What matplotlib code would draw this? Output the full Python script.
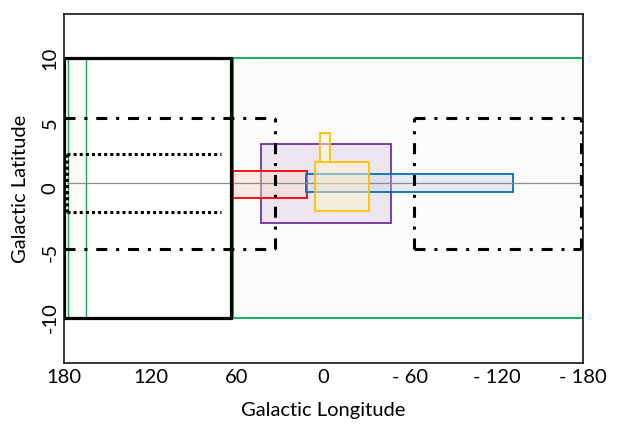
import matplotlib
matplotlib.use("Agg")
import matplotlib.pyplot as plt
from matplotlib.patches import Rectangle

plt.rcParams["font.family"] = ["Lato", "DejaVu Sans"]

# survey footprints as (l_left, l_right, b_low, b_high), degrees
GREEN_WIDE = (62.8, -180.0, -10.0, 10.0)
GREEN_STRIP = (177.0, 165.0, -10.0, 10.0)
BLACK_BOX = (180.0, 64.0, -10.0, 10.0)
DASHDOT_LEFT = (180.0, 33.6, -4.7, 5.4)
DASHDOT_RIGHT = (-62.8, -178.4, -4.7, 5.4)
DOTTED = (177.9, 71.0, -1.85, 2.6)
RED_BOX = (62.8, 11.7, -0.77, 1.3)
PURPLE_BOX = (43.4, -46.8, -2.7, 3.4)
BLUE_BOX = (12.0, -131.6, -0.33, 1.05)
YELLOW_BIG = (5.9, -31.6, -1.77, 2.0)
YELLOW_SMALL = (2.4, -4.7, 2.0, 4.25)

PLANE_L = [178.0, -180.0]
PLANE_B = [0.4, 0.4]

X_TICKS = [180, 120, 60, 0, -60, -120, -180]
X_LABELS = ["180", "120", "60", "0", "- 60", "- 120", "- 180"]
Y_TICKS = [10, 5, 0, -5, -10]
Y_LABELS = ["10", "5", "0", "-5", "-10"]

DASHDOT = (0, (3.6, 2.9, 1.0, 2.9))
DOTS = (0, (1.0, 1.0))


def add_box(axis, box, edge, face, line_width=1.3, z_order=2):
    """ add a filled rectangle from a footprint tuple """
    l_left, l_right, b_low, b_high = box
    patch = Rectangle((l_right, b_low), l_left - l_right, b_high - b_low,
                      facecolor=face, edgecolor=edge,
                      linewidth=line_width, zorder=z_order)
    axis.add_patch(patch)


def add_outline(axis, box, sides, style, line_width=2.2):
    """ draw some sides of a footprint with a line style """
    l_left, l_right, b_low, b_high = box
    segments = {
        "top": ([l_left, l_right], [b_high, b_high]),
        "bottom": ([l_left, l_right], [b_low, b_low]),
        "left": ([l_left, l_left], [b_low, b_high]),
        "right": ([l_right, l_right], [b_low, b_high]),
    }
    for side in sides:
        x_values, y_values = segments[side]
        axis.plot(x_values, y_values, color="black", linestyle=style,
                  linewidth=line_width, zorder=6, solid_capstyle="butt",
                  dash_capstyle="butt")


figure = plt.figure(figsize=(6.17, 4.24), dpi=100)
ax = figure.add_axes([0.1037, 0.1439, 0.8412, 0.8231])
ax.set_xlim(180, -180)
ax.set_ylim(-13.5, 13.4)

add_box(ax, GREEN_WIDE, "#00b050", "#fbfbf9", 1.3, 1)
add_box(ax, GREEN_STRIP, "#00b050", "#fbfbf9", 1.0, 1)
add_box(ax, PURPLE_BOX, "#7030a0", (0.44, 0.19, 0.63, 0.1), 1.3, 2)
add_box(ax, RED_BOX, "#ff0000", (0.98, 0.85, 0.8, 0.45), 1.3, 3)
add_box(ax, BLUE_BOX, "#0070c0", (0.78, 0.82, 0.9, 0.35), 1.3, 3)
add_box(ax, YELLOW_BIG, "#ffc000", (1.0, 0.95, 0.78, 0.5), 1.3, 4)
add_box(ax, YELLOW_SMALL, "#ffc000", (1.0, 0.98, 0.82, 0.5), 1.3, 4)
add_box(ax, BLACK_BOX, "black", "none", 2.3, 5)

ax.plot(PLANE_L, PLANE_B, color="#8c8c8c", linewidth=0.9, zorder=3.5)

add_outline(ax, DASHDOT_LEFT, ["top", "right", "bottom"], DASHDOT)
add_outline(ax, DASHDOT_RIGHT, ["top", "left", "right", "bottom"], DASHDOT)
add_outline(ax, DOTTED, ["top", "left", "bottom"], DOTS)

ax.set_xticks(X_TICKS)
ax.set_xticklabels(X_LABELS, fontsize=14.5)
ax.set_yticks(Y_TICKS)
ax.set_yticklabels(Y_LABELS, fontsize=14.5, rotation=90, va="center")
ax.tick_params(length=0, pad=4)
ax.set_xlabel("Galactic Longitude", fontsize=14.5, labelpad=12)
ax.set_ylabel("Galactic Latitude", fontsize=14.5, labelpad=9)
for spine in ax.spines.values():
    spine.set_linewidth(1.1)
    spine.set_zorder(7)

figure.savefig("out.png", dpi=100)
